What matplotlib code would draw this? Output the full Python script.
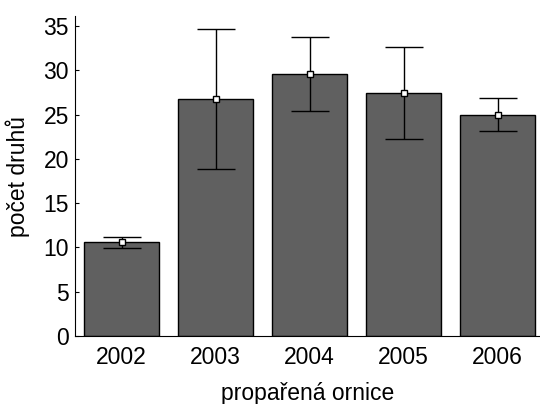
import matplotlib
matplotlib.use("Agg")
import matplotlib.pyplot as plt

# hodnoty
roky = ["2002", "2003", "2004", "2005", "2006"]
prumer = [10.6, 26.8, 29.6, 27.4, 25.0]
horni = [11.2, 34.7, 33.8, 32.6, 26.9]
dolni = [9.9, 18.9, 25.4, 22.2, 23.1]

plt.rcParams["font.family"] = ["Liberation Sans", "DejaVu Sans"]

fig = plt.figure(figsize=(5.4, 4.04), dpi=100)
ax = fig.add_axes([0.138, 0.168, 0.862, 0.792])

x = range(len(roky))
err = [[p - d for p, d in zip(prumer, dolni)], [h - p for h, p in zip(horni, prumer)]]

ax.bar(x, prumer, width=0.8, color="#606060", edgecolor="black", linewidth=1.0, zorder=2)
ax.errorbar(x, prumer, yerr=err, fmt="s", color="black", ecolor="black",
            elinewidth=1.0, capsize=13.5, capthick=1.0,
            markersize=4.5, markerfacecolor="white", markeredgecolor="black",
            markeredgewidth=1.0, zorder=3)

ax.set_xlim(-0.5, 4.45)
ax.set_ylim(0, 36.1)
ax.set_yticks([0, 5, 10, 15, 20, 25, 30, 35])
ax.set_xticks(list(x))
ax.set_xticklabels(roky)

ax.spines["top"].set_visible(False)
ax.spines["right"].set_visible(False)
ax.tick_params(direction="in", length=3, labelsize=16.5, width=0.8)
ax.tick_params(axis="y", pad=4)
ax.tick_params(axis="x", pad=7)

ax.set_xlabel("propařená ornice", fontsize=16.5, labelpad=9.5)
ax.set_ylabel("počet druhů", fontsize=16.5, labelpad=10)

fig.savefig("out.png", dpi=100)
